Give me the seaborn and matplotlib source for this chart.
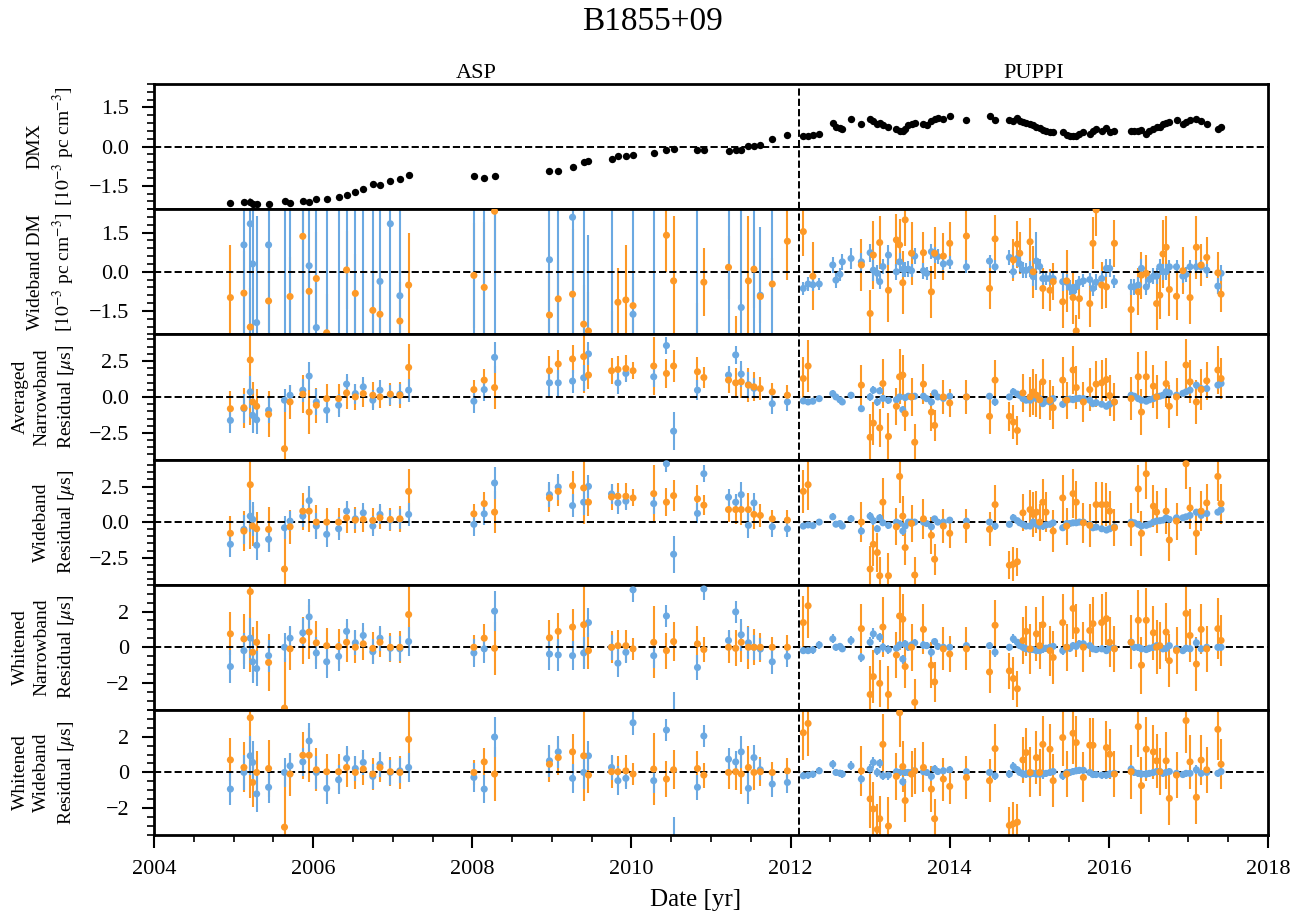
import numpy as np
import pandas as pd
import matplotlib
matplotlib.use("Agg")
import matplotlib.pyplot as plt
from matplotlib.ticker import MultipleLocator
from matplotlib.transforms import blended_transform_factory
import seaborn as sns

nan = np.nan

# ---------------- epochs (decimal year) ----------------
asp_t = [2004.96, 2005.13, 2005.21, 2005.24, 2005.29, 2005.44, 2005.64, 2005.71, 2005.87, 2005.95,
         2006.04, 2006.17, 2006.32, 2006.42, 2006.53, 2006.63, 2006.75, 2006.84, 2006.97, 2007.09,
         2007.20, 2008.02, 2008.15, 2008.28, 2008.97, 2009.08, 2009.26, 2009.40, 2009.46, 2009.75,
         2009.83, 2009.93, 2010.02, 2010.28, 2010.44, 2010.53, 2010.83, 2010.91, 2011.22, 2011.31,
         2011.38, 2011.47, 2011.54, 2011.62, 2011.77, 2011.96]

puppi_t = [2012.16, 2012.22, 2012.28, 2012.36, 2012.53, 2012.57, 2012.62, 2012.65, 2012.76, 2012.89,
           2013.00, 2013.04, 2013.09, 2013.12, 2013.16, 2013.23, 2013.33, 2013.37, 2013.41, 2013.44,
           2013.48, 2013.52, 2013.56, 2013.67, 2013.71, 2013.77, 2013.81, 2013.85, 2013.92, 2014.00,
           2014.21, 2014.50, 2014.57, 2014.75, 2014.80, 2014.85, 2014.88, 2014.92, 2014.96, 2015.01,
           2015.05, 2015.09, 2015.13, 2015.17, 2015.21, 2015.26, 2015.30, 2015.42, 2015.47, 2015.51,
           2015.55, 2015.59, 2015.63, 2015.68, 2015.76, 2015.80, 2015.84, 2015.91, 2015.97, 2016.01,
           2016.07, 2016.28, 2016.32, 2016.37, 2016.41, 2016.47, 2016.51, 2016.56, 2016.60, 2016.64,
           2016.68, 2016.72, 2016.76, 2016.85, 2016.93, 2016.97, 2017.02, 2017.10, 2017.16, 2017.23,
           2017.37, 2017.41]

backend_split = 2012.1          # ASP -> PUPPI changeover

# ---------------- DMX [1e-3 pc cm^-3] ----------------
asp_dmx = [-2.17, -2.13, -2.13, -2.21, -2.21, -2.21, -2.08, -2.17, -2.08, -2.12,
           -2.01, -2.01, -1.94, -1.87, -1.75, -1.63, -1.44, -1.46, -1.33, -1.25,
           -1.08, -1.12, -1.21, -1.12, -0.92, -0.95, -0.80, -0.60, -0.57, -0.47,
           -0.37, -0.36, -0.31, -0.24, -0.12, -0.08, -0.12, -0.12, -0.18, -0.15,
           -0.12, 0.04, 0.04, 0.05, 0.30, 0.46]
asp_dmx_err = [0.06, 0.08, 0.14, 0.06, 0.06, 0.05, 0.05, 0.04, 0.04, 0.04,
               0.04, 0.04, 0.04, 0.04, 0.03, 0.03, 0.03, 0.03, 0.03, 0.03,
               0.03, 0.04, 0.04, 0.04, 0.03, 0.03, 0.03, 0.03, 0.03, 0.03,
               0.03, 0.03, 0.03, 0.03, 0.03, 0.03, 0.03, 0.03, 0.03, 0.03,
               0.03, 0.03, 0.03, 0.03, 0.03, 0.03]
puppi_dmx = [0.42, 0.42, 0.45, 0.49, 0.90, 0.77, 0.70, 0.68, 1.07, 0.87,
             1.07, 0.97, 0.87, 0.90, 0.83, 0.74, 0.68, 0.59, 0.61, 0.68,
             0.81, 0.85, 0.90, 0.85, 0.81, 1.00, 1.07, 1.10, 1.07, 1.19,
             1.03, 1.19, 1.03, 1.03, 1.00, 1.10, 1.00, 0.94, 0.90, 0.87,
             0.81, 0.74, 0.72, 0.64, 0.61, 0.55, 0.55, 0.55, 0.46, 0.42,
             0.39, 0.42, 0.49, 0.55, 0.49, 0.59, 0.68, 0.61, 0.72, 0.55,
             0.61, 0.59, 0.59, 0.61, 0.64, 0.49, 0.61, 0.68, 0.77, 0.77,
             0.85, 0.90, 0.94, 1.03, 0.87, 0.94, 1.03, 1.07, 0.97, 0.87,
             0.68, 0.74]
puppi_dmx_err = [0.03, 0.03, 0.03, 0.03, 0.04, 0.03, 0.03, 0.03, 0.03, 0.03,
                 0.04, 0.03, 0.03, 0.03, 0.03, 0.03, 0.03, 0.03, 0.03, 0.03,
                 0.03, 0.03, 0.03, 0.03, 0.03, 0.03, 0.03, 0.03, 0.03, 0.03,
                 0.03, 0.03, 0.03, 0.03, 0.03, 0.03, 0.03, 0.03, 0.03, 0.03,
                 0.03, 0.03, 0.03, 0.03, 0.03, 0.03, 0.03, 0.03, 0.03, 0.03,
                 0.03, 0.03, 0.03, 0.03, 0.03, 0.03, 0.03, 0.03, 0.03, 0.03,
                 0.03, 0.03, 0.03, 0.03, 0.03, 0.03, 0.03, 0.03, 0.03, 0.03,
                 0.03, 0.03, 0.03, 0.03, 0.03, 0.03, 0.03, 0.03, 0.03, 0.03,
                 0.03, 0.03]

# ---------------- wideband DM [1e-3 pc cm^-3] ----------------
asp_dm_l = [nan, 1.03, 1.84, 0.30, -1.95, 1.03, 3.0, -3.0, 3.0, 0.23,
            -2.14, 3.0, -3.0, 3.0, -3.0, 3.0, -3.0, -0.37, 1.84, -0.92,
            nan, 3.0, -3.0, 3.0, 0.46, -3.0, 2.09, 3.0, -2.6, 3.0,
            nan, nan, -1.63, 3.0, nan, nan, -3.0, nan, 3.0, nan,
            -1.37, nan, 3.0, -0.90, -3.0, nan]
asp_dm_l_err = [4.0, 4.2, 4.4, 4.0, 4.1, 3.9, 6.0, 6.0, 6.0, 4.2,
                4.6, 6.0, 6.0, 6.0, 6.0, 6.0, 6.0, 4.0, 4.3, 3.8,
                4.0, 6.0, 6.0, 6.0, 4.2, 6.0, 4.5, 6.0, 4.0, 6.0,
                4.0, 4.0, 4.4, 6.0, 4.0, 4.0, 6.0, 4.0, 6.0, 4.0,
                4.0, 4.0, 6.0, 2.6, 6.0, 4.0]
asp_dm_430 = [-0.99, -0.82, -2.12, nan, nan, -1.12, nan, -0.95, 1.36, -0.75,
              -0.26, -2.34, nan, 0.07, -0.83, nan, -1.48, -1.63, nan, -1.89,
              -0.51, -0.14, -0.60, 2.32, -1.66, -1.04, -0.86, -2.01, -2.27, -3.0,
              -1.17, -1.08, -1.30, nan, 1.40, -0.35, -3.0, -0.40, 0.17, -3.2,
              nan, -0.35, 0.10, -0.95, -0.47, 1.17]
asp_dm_430_err = [2.0, 1.6, 1.5, 1.5, 1.5, 2.0, 1.5, 1.5, 2.2, 1.6,
                  1.8, 1.5, 1.5, 1.5, 1.5, 1.5, 1.5, 1.5, 1.5, 1.5,
                  2.0, 2.0, 2.5, 2.5, 1.5, 1.5, 2.5, 1.5, 1.5, 1.5,
                  1.3, 2.1, 1.1, 1.5, 1.4, 2.5, 1.8, 1.3, 1.2, 1.5,
                  1.5, 2.5, 1.5, 1.0, 1.0, 1.5]
puppi_dm_l = [-0.64, -0.47, -0.50, -0.47, 0.26, -0.32, -0.10, 0.38, 0.51, 0.38,
              0.73, 0.06, -0.06, -0.38, 0.20, 0.64, 0.0, 0.38, 0.09, 0.09,
              0.10, 0.04, 0.60, 0.04, -0.06, 0.77, 0.65, 0.58, 0.30, 0.35,
              0.19, 0.41, 0.19, 0.55, 0.0, 0.51, 0.30, 0.06, 0.05, 0.10,
              -0.19, 0.41, 0.20, -0.26, -0.26, -0.26, -0.26, -0.38, -0.40, -0.60,
              -0.77, -0.58, -0.40, -0.35, -0.30, -0.64, -0.40, -0.26, 0.13, 0.13,
              -0.38, -0.58, -0.58, -0.51, 0.13, -0.58, -0.30, -0.17, -0.17, 0.19,
              0.0, 0.0, 0.19, 0.19, -0.17, -0.10, 0.19, 0.19, 0.19, 0.06,
              -0.55, -0.06]
puppi_dm_l_err = [0.25, 0.25, 0.22, 0.22, 0.30, 0.30, 0.25, 0.30, 0.40, 0.35,
                  0.35, 0.40, 0.30, 0.30, 0.30, 0.40, 0.30, 0.35, 0.30, 0.30,
                  0.30, 0.25, 0.30, 0.30, 0.25, 0.30, 0.30, 0.30, 0.25, 0.25,
                  0.25, 0.25, 0.25, 0.30, 0.25, 0.30, 0.30, 0.30, 0.30, 0.30,
                  0.35, 1.10, 0.30, 0.25, 0.25, 0.25, 0.25, 0.35, 0.30, 0.30,
                  0.30, 0.25, 0.25, 0.25, 0.25, 0.30, 0.30, 0.30, 0.35, 0.35,
                  0.25, 0.30, 0.30, 0.30, 0.35, 0.30, 0.30, 0.30, 0.30, 0.30,
                  0.30, 0.30, 0.25, 0.25, 0.25, 0.30, 0.25, 0.25, 0.25, 0.25,
                  0.30, 0.30]
puppi_dm_430 = [1.54, nan, -0.17, nan, nan, nan, nan, nan, nan, 0.26,
                -1.60, 0.64, nan, 1.12, nan, -0.71, 1.22, 1.03, -0.42, 1.99,
                nan, 0.71, nan, 0.73, nan, -0.77, 0.71, nan, 0.60, 1.09,
                1.37, -0.64, 1.26, nan, 0.45, 1.06, 0.71, nan, nan, 1.15,
                0.0, nan, nan, -0.64, nan, -0.71, -0.38, -1.15, -0.35, nan,
                -0.99, -2.27, -1.03, nan, -1.22, 1.09, 2.37, -0.51, -0.58, nan,
                1.09, -1.45, nan, -0.77, -0.13, -0.06, nan, nan, -1.22, -0.90,
                0.68, 0.94, -0.68, -0.94, 0.04, nan, -0.99, 0.94, 0.26, 0.55,
                -0.04, -0.86]
puppi_dm_430_err = [0.95, 1.0, 1.3, 1.0, 1.0, 1.0, 1.0, 1.0, 1.0, 1.0,
                    0.9, 1.3, 1.0, 1.0, 1.0, 1.2, 1.0, 1.0, 1.2, 1.0,
                    1.0, 1.2, 1.0, 0.8, 1.0, 1.0, 1.0, 1.0, 0.9, 0.8,
                    1.0, 0.8, 0.9, 1.0, 0.8, 0.9, 0.8, 1.0, 1.0, 0.9,
                    1.0, 1.0, 1.0, 0.8, 1.0, 0.8, 0.7, 1.0, 1.2, 1.0,
                    1.0, 0.6, 0.8, 1.0, 0.9, 1.0, 1.0, 0.9, 0.8, 1.0,
                    0.9, 1.0, 1.0, 0.9, 0.9, 0.7, 1.0, 1.0, 1.0, 0.9,
                    1.3, 1.2, 1.0, 0.9, 0.9, 1.0, 1.0, 1.2, 0.8, 0.8,
                    0.8, 0.7]

# ---------------- timing residual uncertainties [us] ----------------
asp_l_err = [0.9, 1.0, 1.1, 1.2, 1.0, 0.9, 0.8, 0.7, 0.8, 1.0,
             0.9, 0.9, 0.8, 0.7, 0.7, 0.7, 0.7, 0.7, 0.7, 0.7,
             0.8, 0.8, 0.8, 1.1, 0.9, 0.9, 0.8, 0.9, 0.8, 0.7,
             0.8, 0.6, 0.7, 0.7, 0.6, 1.3, 0.7, 0.6, 0.6, 0.6,
             0.9, 0.9, 0.7, 0.6, 0.7, 0.6]
asp_430_err = [1.2, 1.4, 4.5, 1.4, 1.2, 1.6, 2.8, 1.2, 1.3, 1.5,
               1.2, 1.0, 1.0, 1.1, 0.9, 0.9, 0.9, 0.8, 0.8, 0.9,
               1.6, 0.7, 0.8, 1.5, 1.0, 1.0, 1.0, 2.5, 1.0, 0.9,
               0.9, 0.9, 0.6, 2.0, 1.0, 1.1, 1.0, 0.7, 0.9, 1.0,
               1.1, 1.2, 1.0, 0.8, 0.6, 0.7]
puppi_l_err = [0.2, 0.2, 0.2, 0.2, 0.25, 0.2, 0.2, 0.2, 0.25, 0.25,
               0.3, 0.3, 0.25, 0.25, 0.25, 0.25, 0.2, 0.2, 0.25, 0.2,
               0.2, 0.2, 0.2, 0.2, 0.2, 0.25, 0.2, 0.2, 0.2, 0.2,
               0.2, 0.2, 0.25, 0.2, 0.25, 0.2, 0.2, 0.2, 0.2, 0.2,
               0.2, 0.2, 0.2, 0.25, 0.2, 0.2, 0.2, 0.25, 0.2, 0.2,
               0.2, 0.2, 0.2, 0.2, 0.2, 0.2, 0.2, 0.2, 0.2, 0.2,
               0.2, 0.25, 0.2, 0.2, 0.2, 0.2, 0.2, 0.2, 0.2, 0.2,
               0.2, 0.2, 0.2, 0.2, 0.2, 0.2, 0.2, 0.25, 0.2, 0.2,
               0.2, 0.2]
puppi_430_err = [1.5, 1.8, 1.3, 1.3, 1.3, 1.3, 1.3, 1.3, 1.3, 1.4,
                 1.6, 1.5, 1.4, 1.3, 1.7, 1.6, 1.3, 1.9, 1.4, 1.2,
                 1.3, 1.3, 1.3, 1.4, 1.3, 1.3, 1.1, 1.3, 1.2, 1.0,
                 1.2, 1.2, 1.4, 1.0, 1.2, 1.0, 1.3, 1.3, 1.4, 1.4,
                 1.6, 1.5, 1.3, 1.6, 1.4, 1.4, 1.5, 1.6, 1.3, 1.3,
                 1.7, 1.5, 1.3, 1.4, 1.5, 1.5, 1.6, 1.6, 1.5, 1.4,
                 1.3, 1.5, 1.3, 1.7, 1.6, 1.8, 1.3, 1.5, 1.5, 1.3,
                 1.3, 1.6, 1.5, 1.3, 1.3, 1.8, 1.5, 1.5, 1.4, 1.3,
                 1.7, 1.4]

# ---------------- averaged narrowband residuals [us] ----------------
asp_nb_l = [-1.63, -0.82, 0.35, -1.28, -1.59, -0.93, -0.23, 0.12, 0.47, 1.45,
            -0.35, -0.93, -0.58, 0.89, 0.23, 0.70, -0.23, 0.47, 0.12, 0.19,
            0.47, -0.30, 0.51, 2.75, 0.98, 0.98, 1.10, 1.33, 2.99, nan,
            0.98, 1.63, nan, 1.40, 3.57, -2.38, 0.47, nan, 1.52, 2.92,
            1.59, 0.85, 0.60, nan, -0.47, -0.35]
asp_nb_430 = [-0.82, -0.75, 2.57, -0.35, -0.65, -1.21, -3.60, -0.35, 0.19, -1.05,
              -0.58, -0.12, -0.12, 0.28, 0.0, 0.23, 0.12, 0.0, 0.19, 0.12,
              2.05, 0.51, 1.17, 0.65, 1.82, 2.29, 2.64, 2.80, 1.52, 1.82,
              1.91, 1.98, 1.82, 2.15, 1.63, 2.15, 1.75, 1.35, 1.17, 0.98,
              1.05, 0.82, 0.70, 0.58, 0.35, 0.12]
puppi_nb_l = [-0.28, -0.35, -0.30, -0.12, 0.23, 0.0, -0.20, -0.35, 0.12, -0.82,
              0.0, 0.47, -0.35, 0.42, -0.10, -0.23, -0.20, 0.0, -0.89, -0.05,
              0.05, 0.0, 0.05, 0.05, -0.12, -0.35, 0.28, 0.0, -0.10, 0.05,
              0.0, 0.05, -0.35, 0.0, 0.35, 0.20, 0.10, -0.12, -0.23, -0.23,
              0.0, -0.12, -0.12, -0.47, -0.30, -0.35, -0.12, -0.51, -0.20, -0.15,
              -0.19, -0.12, -0.10, -0.12, -0.23, -0.47, -0.40, -0.51, -0.65, -0.51,
              -0.35, 0.12, 0.05, -0.12, -0.23, -0.30, -0.20, -0.12, 0.0, 0.05,
              0.12, 0.35, 0.28, 0.12, 0.25, 0.35, 0.47, 0.82, 0.58, 0.58,
              0.82, 0.93]
puppi_nb_430 = [1.28, 2.15, nan, nan, nan, nan, nan, nan, nan, 0.82,
                -2.80, -1.82, nan, -2.15, 0.93, -2.75, -0.65, 1.40, 1.52, -1.17,
                nan, 0.0, -3.15, 0.89, nan, -1.05, -1.98, nan, 0.0, -0.42,
                0.0, -1.35, 1.17, -1.35, -1.75, -2.33, nan, 0.28, nan, 0.0,
                0.35, 0.12, -0.20, 1.05, nan, -0.23, -0.75, 1.17, -0.23, nan,
                1.87, 0.65, nan, -0.35, 0.51, nan, 0.89, 0.98, 1.21, 0.10,
                -0.35, -0.12, nan, 1.40, -1.05, 1.40, nan, 0.75, 0.0, nan,
                nan, 0.93, -0.65, 0.0, nan, 2.22, 1.05, -0.35, 0.51, 1.12,
                1.87, 1.28]

# ---------------- wideband residuals [us] ----------------
asp_wb_l = [-1.56, -0.51, 0.42, 0.19, -1.63, -1.21, -0.40, 0.07, 0.42, 1.51,
            -0.28, -0.86, -0.47, 0.77, 0.23, 0.65, -0.28, 0.54, 0.14, 0.19,
            0.54, -0.16, 0.58, 2.75, 1.93, 2.47, 1.16, 1.40, 2.51, 1.98,
            1.35, 1.47, nan, 1.30, 4.10, -2.26, 0.61, 3.40, 1.75, 1.40,
            1.93, -0.23, 1.35, nan, -0.33, -0.47]
asp_wb_430 = [-0.79, -0.63, 2.63, -0.28, -0.47, -0.51, -3.30, -0.33, 0.77, 0.77,
              0.0, 0.0, 0.0, 0.30, 0.14, 0.19, 0.12, 0.30, 0.19, 0.23,
              2.16, 0.58, 1.30, 0.70, 1.70, 2.16, 2.56, 2.40, 1.40, 1.77,
              1.82, 1.82, 1.70, 2.0, 1.40, 1.86, 1.63, 1.19, 0.88, 0.88,
              0.88, 0.88, 0.54, 0.47, 0.23, 0.14]
puppi_wb_l = [-0.28, -0.20, -0.25, 0.0, 0.37, -0.15, -0.10, -0.28, 0.23, -0.63,
              0.42, 0.10, -0.47, 0.30, -0.05, -0.23, 0.0, -0.10, -0.63, -0.28,
              0.0, 0.0, 0.0, 0.0, -0.10, -0.33, 0.23, 0.0, 0.0, 0.14,
              0.07, 0.0, -0.28, -0.16, 0.30, 0.10, -0.05, -0.16, -0.28, -0.28,
              0.0, -0.16, -0.28, -0.28, -0.20, -0.16, -0.05, -0.40, -0.10, -0.10,
              -0.05, -0.05, 0.0, 0.0, -0.16, -0.40, -0.35, -0.47, -0.56, -0.47,
              -0.33, 0.0, -0.05, -0.16, -0.28, -0.23, -0.15, 0.0, 0.07, 0.10,
              0.14, 0.30, 0.19, 0.30, 0.30, 0.37, 0.47, 0.70, 0.47, 0.60,
              0.70, 0.88]
puppi_wb_430 = [2.16, 2.63, nan, nan, nan, nan, nan, nan, nan, 0.0,
                -3.30, -1.56, -2.14, -3.77, 1.40, -3.77, -0.33, 3.21, 0.42, -1.79,
                nan, -0.10, -3.72, 0.23, nan, -0.93, -2.61, nan, -0.28, -0.79,
                -0.28, -0.51, 1.23, -3.03, -2.96, -2.79, nan, 0.65, nan, 0.88,
                0.54, 0.70, 0.0, 1.40, 0.70, nan, -0.63, 1.70, -0.28, nan,
                2.0, 1.40, nan, -0.05, -0.23, nan, 1.23, 1.23, 1.23, 0.77,
                -0.40, -0.16, nan, 2.33, -0.79, 3.40, nan, 1.12, 0.70, nan,
                nan, 0.77, -1.26, 0.07, nan, 4.10, 1.0, -0.79, 0.77, 1.35,
                3.21, 1.30]

# ---------------- whitened narrowband residuals [us] ----------------
asp_wnb_l = [-1.08, -0.19, 0.51, -0.81, -1.19, -0.47, 0.0, 0.51, 0.81, 1.70,
             -0.32, -0.81, -0.51, 0.89, 0.25, 0.66, -0.25, 0.51, -0.06, -0.09,
             0.32, -0.32, -0.09, 2.02, -0.38, -0.43, -0.47, -0.32, 1.38, 0.0,
             -0.89, -0.28, 3.21, -0.47, 1.75, -3.80, -1.13, 3.26, 0.38, 1.98,
             0.70, 0.25, 0.0, -0.10, -0.81, -0.51]
asp_wnb_430 = [0.75, 0.47, 3.11, -0.28, 0.28, -0.85, -3.40, -0.09, 0.38, 0.85,
               0.25, 0.09, 0.04, 0.28, 0.0, 0.19, -0.06, 0.28, 0.0, 0.0,
               1.83, 0.0, 0.51, -0.06, 0.53, 0.89, 1.13, 1.26, -0.19, 0.0,
               0.09, 0.09, -0.09, 0.28, -0.19, 0.32, 0.19, -0.13, 0.0, -0.06,
               0.28, 0.0, 0.0, 0.0, 0.0, 0.0]
puppi_wnb_l = [-0.19, -0.19, -0.15, 0.13, 0.47, 0.0, 0.05, -0.09, 0.38, -0.57,
               0.28, 0.75, -0.19, 0.57, 0.0, -0.13, -0.06, 0.13, -0.66, 0.19,
               0.0, 0.13, 0.25, 0.13, 0.09, -0.28, 0.32, 0.05, 0.0, 0.0,
               0.09, 0.09, -0.28, 0.0, 0.47, 0.28, 0.09, 0.0, -0.09, -0.13,
               -0.13, -0.19, -0.19, -0.09, -0.05, 0.0, 0.05, -0.19, 0.0, -0.06,
               0.09, 0.05, 0.19, 0.19, 0.09, -0.09, -0.13, -0.09, -0.19, 0.0,
               -0.06, 0.28, 0.0, 0.0, -0.09, -0.13, -0.05, 0.0, 0.09, 0.05,
               -0.09, -0.06, 0.09, -0.09, -0.19, -0.05, -0.09, 0.25, -0.09, 0.0,
               0.0, 0.0]
puppi_wnb_430 = [1.38, 2.32, nan, nan, nan, nan, nan, nan, nan, 1.04,
                 -2.64, -1.64, nan, -2.02, 1.13, -2.64, -0.43, 1.75, 1.57, -1.08,
                 nan, 0.0, -3.08, 1.0, nan, -1.0, -1.94, nan, -0.09, -0.38,
                 -0.09, -1.38, 1.23, -1.32, -1.75, -2.32, nan, 0.38, 0.89, -0.09,
                 nan, 0.75, 0.09, 1.26, nan, -0.19, -0.57, 1.38, 0.0, nan,
                 2.17, 0.94, nan, 0.0, 0.94, 1.32, nan, 1.38, 1.60, 0.28,
                 -0.09, 0.28, nan, 1.51, -1.0, 1.51, nan, 0.81, 0.0, 0.09,
                 nan, 0.85, -0.75, -0.19, nan, 1.89, 0.66, -0.94, 1.0, -0.09,
                 1.04, 0.38]

# ---------------- whitened wideband residuals [us] ----------------
asp_wwb_l = [-0.93, 0.0, 0.93, 0.56, -1.20, -0.83, 0.0, 0.37, 0.59, 1.76,
             0.0, -0.89, -0.41, 0.78, 0.22, 0.56, -0.22, 0.46, 0.0, 0.09,
             0.28, -0.28, -0.93, 1.98, 0.65, 1.15, -0.33, 0.0, 0.93, 0.28,
             -0.46, -0.33, 2.78, -0.46, 2.37, -3.80, -0.83, 2.04, 0.74, 0.59,
             1.15, -0.89, 0.83, 0.15, -0.65, -0.56]
asp_wwb_430 = [0.70, 0.28, 3.06, -0.56, 0.0, 0.22, -3.06, -0.09, 0.96, 0.96,
               0.15, 0.04, 0.04, 0.28, 0.0, 0.19, -0.09, 0.28, 0.04, 0.0,
               1.85, 0.0, 0.59, -0.09, 0.46, 0.83, 1.15, 0.93, -0.15, 0.04,
               0.04, 0.09, -0.09, 0.19, -0.37, 0.15, 0.22, -0.15, 0.0, 0.04,
               -0.09, 0.28, 0.0, 0.04, 0.0, 0.09]
puppi_wwb_l = [-0.19, -0.15, -0.10, 0.09, 0.46, 0.0, -0.04, -0.09, 0.37, -0.37,
               0.19, 0.56, 0.0, 0.52, -0.19, -0.15, 0.04, 0.0, -0.52, 0.0,
               0.0, 0.0, 0.09, 0.04, 0.0, -0.22, 0.19, 0.05, 0.09, 0.15,
               0.04, 0.0, -0.19, -0.09, 0.33, 0.15, 0.0, -0.09, -0.09, -0.09,
               -0.05, -0.09, -0.09, -0.09, -0.05, 0.0, 0.05, -0.19, 0.0, 0.0,
               0.05, 0.09, 0.12, 0.12, 0.0, -0.12, -0.12, -0.15, -0.15, -0.09,
               -0.05, 0.19, 0.0, -0.05, -0.09, -0.09, -0.05, 0.0, 0.05, 0.05,
               -0.05, 0.0, 0.05, -0.05, -0.12, -0.05, -0.05, 0.15, -0.05, 0.0,
               -0.05, 0.05]
puppi_wwb_430 = [2.22, 2.74, nan, nan, nan, nan, nan, nan, nan, 0.09,
                 -1.48, -2.04, -3.19, -2.59, 1.57, -3.0, -0.22, 3.34, 0.33, -1.57,
                 nan, -0.10, 0.09, 0.28, nan, -0.93, -2.59, nan, -0.37, -0.78,
                 -0.28, -0.46, 1.33, -2.96, -2.87, -2.78, nan, 0.70, 1.11, 0.0,
                 nan, 0.83, 0.0, 1.57, nan, 1.30, -0.46, 1.95, -0.09, nan,
                 2.19, 1.67, nan, -0.28, 1.52, 1.52, nan, nan, 1.39, 1.02,
                 -0.09, 0.04, nan, 2.56, -0.74, 1.30, nan, 1.15, 0.65, 0.04,
                 nan, 0.65, -1.45, -0.15, nan, 2.90, 0.59, -1.39, 0.69, 0.15,
                 2.41, 0.46]

# ---------------- style ----------------
BLUE = "#6BA9E2"
ORANGE = "#FD9927"
palette = {"1.4 GHz": BLUE, "430 MHz": ORANGE}

sns.set_style("ticks")
plt.rcParams.update({
    "font.family": ["serif"],
    "font.serif": ["Liberation Serif", "DejaVu Serif"],
    "mathtext.fontset": "stix",
    "axes.edgecolor": "black",
    "axes.labelcolor": "black",
    "text.color": "black",
    "xtick.color": "black",
    "ytick.color": "black",
    "axes.linewidth": 2.0,
})


def band_frame(asp_l, asp_o, pup_l, pup_o, asp_le, asp_oe, pup_le, pup_oe):
    parts = [("1.4 GHz", asp_t, asp_l, asp_le),
             ("1.4 GHz", puppi_t, pup_l, pup_le),
             ("430 MHz", asp_t, asp_o, asp_oe),
             ("430 MHz", puppi_t, pup_o, pup_oe)]
    frames = [pd.DataFrame({"year": t, "value": v, "err": e, "band": b})
              for b, t, v, e in parts]
    return pd.concat(frames, ignore_index=True).dropna(subset=["value"])


def draw_bands(ax, df):
    for band, z in (("430 MHz", 1.2), ("1.4 GHz", 1.3)):
        sub = df[df["band"] == band]
        ax.errorbar(sub["year"], sub["value"], yerr=sub["err"], fmt="none",
                    ecolor=palette[band], elinewidth=1.5, capsize=0, zorder=z)
    sns.scatterplot(data=df, x="year", y="value", hue="band", palette=palette,
                    s=26, linewidth=0, legend=False, ax=ax, zorder=3)


fig, axes = plt.subplots(6, 1, sharex=True, figsize=(13.04, 9.17), dpi=100)
fig.subplots_adjust(left=0.1181, right=0.9724, top=0.9084, bottom=0.0894, hspace=0)

# DMX panel
dmx = pd.DataFrame({"year": asp_t + puppi_t,
                    "value": asp_dmx + puppi_dmx,
                    "err": asp_dmx_err + puppi_dmx_err})
axes[0].errorbar(dmx["year"], dmx["value"], yerr=dmx["err"], fmt="none",
                 ecolor="0.6", elinewidth=1.5, capsize=0, zorder=1.2)
sns.scatterplot(data=dmx, x="year", y="value", color="black", s=28,
                linewidth=0, ax=axes[0], zorder=3)

panels = [
    band_frame(asp_dm_l, asp_dm_430, puppi_dm_l, puppi_dm_430,
               asp_dm_l_err, asp_dm_430_err, puppi_dm_l_err, puppi_dm_430_err),
    band_frame(asp_nb_l, asp_nb_430, puppi_nb_l, puppi_nb_430,
               asp_l_err, asp_430_err, puppi_l_err, puppi_430_err),
    band_frame(asp_wb_l, asp_wb_430, puppi_wb_l, puppi_wb_430,
               asp_l_err, asp_430_err, puppi_l_err, puppi_430_err),
    band_frame(asp_wnb_l, asp_wnb_430, puppi_wnb_l, puppi_wnb_430,
               asp_l_err, asp_430_err, puppi_l_err, puppi_430_err),
    band_frame(asp_wwb_l, asp_wwb_430, puppi_wwb_l, puppi_wwb_430,
               asp_l_err, asp_430_err, puppi_l_err, puppi_430_err),
]
for ax, df in zip(axes[1:], panels):
    draw_bands(ax, df)

ylabels = ["DMX\n[$10^{-3}$ pc cm$^{-3}$]",
           "Wideband DM\n[$10^{-3}$ pc cm$^{-3}$]",
           "Averaged\nNarrowband\nResidual [$\\mu$s]",
           "Wideband\nResidual [$\\mu$s]",
           "Whitened\nNarrowband\nResidual [$\\mu$s]",
           "Whitened\nWideband\nResidual [$\\mu$s]"]
ylims = [(-2.4, 2.4), (-2.4, 2.4), (-4.35, 4.35), (-4.4, 4.4), (-3.5, 3.5), (-3.5, 3.5)]
major_steps = [1.5, 1.5, 2.5, 2.5, 2.0, 2.0]
minor_steps = [0.3, 0.3, 0.5, 0.5, 0.5, 0.5]

for i, ax in enumerate(axes):
    ax.axhline(0, color="black", ls="--", lw=1.4, zorder=2)
    ax.axvline(backend_split, color="black", ls="--", lw=1.4, zorder=5)
    ax.set_ylim(*ylims[i])
    ax.yaxis.set_major_locator(MultipleLocator(major_steps[i]))
    ax.yaxis.set_minor_locator(MultipleLocator(minor_steps[i]))
    ax.set_ylabel(ylabels[i], fontsize=14, linespacing=1.35)
    ax.yaxis.set_label_coords(-0.0695, 0.5)
    ax.tick_params(axis="y", which="major", direction="out", length=9, width=1.5,
                   labelsize=16, pad=9, left=True, right=False)
    ax.tick_params(axis="y", which="minor", direction="out", length=5, width=1.2,
                   left=True, right=False)
    ax.set_xlabel("")
    for side in ("top", "right", "bottom", "left"):
        ax.spines[side].set_visible(True)
        ax.spines[side].set_linewidth(2.0)
    if i < len(axes) - 1:
        ax.tick_params(axis="x", which="both", bottom=False, top=False, labelbottom=False)

ax_b = axes[-1]
ax_b.set_xlim(2004, 2018)
ax_b.xaxis.set_major_locator(MultipleLocator(2))
ax_b.xaxis.set_minor_locator(MultipleLocator(0.5))
ax_b.tick_params(axis="x", which="major", direction="out", length=9, width=1.5,
                 labelsize=16, pad=9, bottom=True, top=False)
ax_b.tick_params(axis="x", which="minor", direction="out", length=5, width=1.2,
                 bottom=True, top=False)
ax_b.set_xlabel("Date [yr]", fontsize=18)
ax_b.xaxis.set_label_coords(0.486, -0.43)

top_tr = blended_transform_factory(axes[0].transData, axes[0].transAxes)
axes[0].text((2004 + backend_split) / 2, 1.01, "ASP", transform=top_tr,
             ha="center", va="bottom", fontsize=16)
axes[0].text((backend_split + 2018) / 2, 1.01, "PUPPI", transform=top_tr,
             ha="center", va="bottom", fontsize=16)
fig.suptitle("B1855+09", y=0.976, va="center", fontsize=24)

fig.savefig("out.png", dpi=100)
